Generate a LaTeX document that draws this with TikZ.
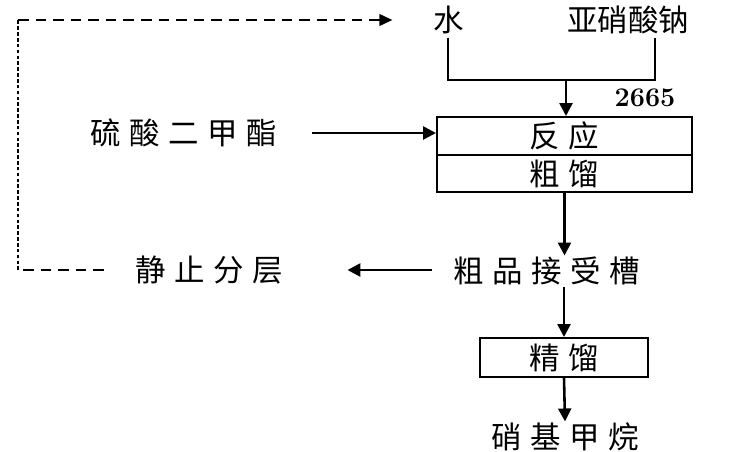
\documentclass[tikz,border=0pt]{standalone}
\usepackage{fontspec}
\newfontfamily\cjk[LetterSpace=28]{Noto Sans CJK SC}
\newfontfamily\cjkn[LetterSpace=0]{Noto Sans CJK SC}
\usepackage{tikz}
\usetikzlibrary{arrows.meta, positioning}
\tikzset{
	lbl/.style={font=\cjk\fontsize{26}{28}\selectfont, inner sep=1pt},
	lbln/.style={font=\cjkn\fontsize{26}{28}\selectfont, inner sep=1pt},
	unit/.style={draw, line width=1.7pt, font=\cjk\fontsize{26}{28}\selectfont, inner sep=0pt},
	flow/.style={line width=2.2pt, -{Triangle[width=11pt,length=11pt]}},
	wire/.style={line width=2pt},
	back/.style={line width=1.3pt, dash pattern=on 9pt off 6pt},
	backv/.style={line width=1.8pt, dash pattern=on 3pt off 2pt}
}
\begin{document}
\begin{tikzpicture}[x=0.03cm, y=-0.03cm]
				\useasboundingbox (0,0) rectangle (729,452);
				% Paths, nodes and wires:
				\node[lbl](water) at (449, 20){水};
				\node[lbln](nitrite) at (628, 20){亚硝酸钠};
				\node[font=\fontsize{23}{25}\bfseries, inner sep=0pt](N2665) at (645, 98){2665};
				\node[lbl](sulfate) at (184, 133){硫酸二甲酯};
				\node[unit, minimum width=7.65cm, minimum height=1.14cm](react) at (564.5, 136){反应};
				\node[unit, minimum width=7.65cm, minimum height=1.11cm](crude) at (564.5, 173.5){粗馏};
				\node[lbl](receiver) at (547, 271){粗品接受槽};
				\node[lbl](settle) at (209, 270){静止分层};
				\node[unit, minimum width=5.04cm, minimum height=1.17cm](fine) at (564, 357.5){精馏};
				\node[lbl](product) at (565, 437){硝基甲烷};
				\coordinate (mixR) at (655, 80);
				\coordinate (mixM) at (566, 80);
				\coordinate (feedL) at (448, 38);
				\coordinate (feedR) at (655, 38);
				\coordinate (loopB) at (18, 270);
				\coordinate (loopT) at (18, 20);
				\draw[wire] (feedL) |- (mixR) -- (feedR);
				\draw[flow] (mixM) -- (mixM |- react.north);
				\draw[flow, shorten <=1cm] (sulfate.east |- 0,133) -- (react.west |- 0,133);
				\draw[flow] (crude.south) -- (crude.south |- receiver.north);
				\draw[flow, shorten <=0.6cm, shorten >=1.9cm] (receiver.west |- 0,270) -- (settle.east);
				\draw[flow] (fine.north |- receiver.south) -- (fine.north);
				\draw[flow] (fine.south) -- (product.north);
				\draw[back, shorten <=0.9cm] (settle.west) -- (loopB);
				\draw[backv] (loopB) -- (loopT);
				\draw[back, -{Triangle[width=10pt,length=11pt]}, shorten >=1.2cm] (loopT) -- (water.west);
			\end{tikzpicture}
\end{document}
